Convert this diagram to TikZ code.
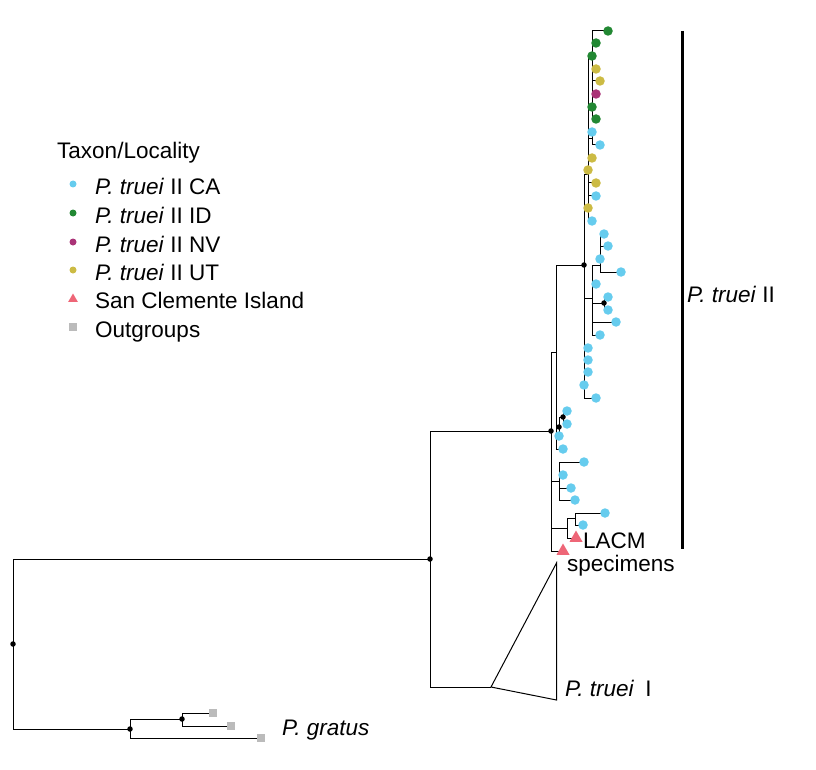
\documentclass[tikz,border=0pt]{standalone}
\usepackage{fontspec}
\setmainfont{Liberation Sans}
\usetikzlibrary{shapes.geometric,backgrounds}

\definecolor{caC}{HTML}{66CCEE}
\definecolor{idC}{HTML}{228833}
\definecolor{nvC}{HTML}{AA3377}
\definecolor{utC}{HTML}{CCBB44}
\definecolor{sciC}{HTML}{EE6677}
\definecolor{ogC}{HTML}{BBBBBB}

\begin{document}
\begin{tikzpicture}[x=1pt, y=-1pt,
                    font=\fontsize{22.5}{26}\selectfont,
                    branch/.style={line width=1pt},
                    tip/.style={circle, fill=#1, inner sep=0, minimum size=9.5pt},
                    sci/.style={regular polygon, regular polygon sides=3, fill=sciC, inner sep=0, minimum size=15pt},
                    og/.style={rectangle, fill=ogC, inner sep=0, minimum size=8.5pt},
                    knot/.style={circle, fill=black, inner sep=0, minimum size=5.5pt},
                    lbl/.style={anchor=base west, inner sep=0pt}]
                \useasboundingbox (0,0) rectangle (816,770);

                % internal nodes
                \node[knot] (root) at (13,644) {};
                \node[knot] (top) at (430,559) {};
                \node[knot] (II) at (551,431) {};
                \coordinate (B) at (556,352);
                \node[knot] (A) at (584,265) {};
                \coordinate (H) at (588,175);
                \coordinate (I) at (592,56);
                \coordinate (K) at (592,139);
                \coordinate (N) at (592,298);
                \coordinate (L) at (600,265);
                \node[knot] (O) at (604,303) {};
                \node[knot] (F) at (559,427) {};
                \node[knot] (G) at (563,417) {};
                \coordinate (C) at (559,481);
                \coordinate (D) at (567,528);
                \coordinate (E) at (575,518);
                \coordinate (Iclade) at (491,687);
                \coordinate (Itop) at (556.5,563);
                \coordinate (Ibot) at (556.5,700);
                \node[knot] (out) at (130,729) {};
                \node[knot] (out2) at (182,719) {};

                % tips
                \foreach \n/\x/\y/\c in {I1/608/31/idC, I2/596/43/idC, I3/592/56/idC, I4/596/69/utC,
                        I5/600/81/utC, I6/596/94/nvC, I7/592/107/idC, I8/596/119/idC,
                        K1/592/132/caC, K2/600/145/caC, H1/592/158/utC, H2/588/170/utC,
                        H3/596/183/utC, H4/596/196/caC, H5/588/208/utC, H6/592/221/caC,
                        L1/604/234/caC, L2/608/246/caC, L3/600/259/caC, L4/621/272/caC,
                        N1/596/284/caC, O1/608/297/caC, O2/608/310/caC, N2/616/322/caC,
                        N3/600/335/caC, A1/588/348/caC, A2/588/360/caC, A3/588/372/caC,
                        A4/584/385/caC, A5/596/398/caC, G1/567/411/caC, G2/567/424/caC,
                        F1/559/436/caC, B1/563/449/caC, C1/584/462/caC, C2/563/475/caC,
                        C3/571/488/caC, C4/575/500/caC, E1/605/513/caC, E2/583/525/caC}
                    \node[tip=\c] (\n) at (\x,\y) {};
                \node[sci] (S1) at (576,538) {};
                \node[sci] (S2) at (563,551) {};
                \node[og] (og1) at (213,713) {};
                \node[og] (og2) at (231,726) {};
                \node[og] (og3) at (261,738) {};

                % branches
                \begin{scope}[on background layer]
                    \foreach \p/\c in {root/top, root/out, out/out2, out2/og1, out2/og2, out/og3,
                            top/II, top/Iclade, II/B, II/C, II/D, II/S2,
                            B/A, B/F, B/B1, A/H, A/N, A/A1, A/A2, A/A3, A/A4, A/A5,
                            H/I, H/K, H/H1, H/H2, H/H3, H/H4, H/H5, H/H6,
                            I/I1, I/I2, I/I3, I/I4, I/I5, I/I6, I/I7, I/I8, K/K1, K/K2,
                            N/L, N/N1, N/O, N/N2, N/N3, L/L1, L/L2, L/L3, L/L4, O/O1, O/O2,
                            F/G, F/F1, G/G1, G/G2, C/C1, C/C2, C/C3, C/C4,
                            D/E, D/S1, E/E1, E/E2}
                        \draw[branch] (\p.center) |- (\c.center);
                    \draw[line width=1pt] (Iclade) -- (Itop) -- (Ibot) -- cycle;
                \end{scope}

                % clade bar and labels
                \coordinate (barT) at (682,31);
                \coordinate (barB) at (682,549);
                \draw[line width=3pt] (barT) -- (barB);
                \node[lbl] (lblII) at (687,302) {\textit{P. truei} II};
                \node[lbl] (lblLACM) at (583,548) {LACM};
                \node[lbl] (lblspec) at (567,571) {specimens};
                \node[lbl] (lblI) at (565,696) {\textit{P. truei}\enspace I};
                \node[lbl] (lblgr) at (282,735) {\textit{P. gratus}};

                % legend
                \node[lbl] (legT) at (57,159) {Taxon/Locality};
                \node[tip=caC, minimum size=7pt] (mCA) at (73,184) {};
                \node[tip=idC, minimum size=7pt] (mID) at (73,213) {};
                \node[tip=nvC, minimum size=7pt] (mNV) at (73,242) {};
                \node[tip=utC, minimum size=7pt] (mUT) at (73,270) {};
                \node[sci, minimum size=11pt] (mSCI) at (73,299) {};
                \node[og, minimum size=8pt] (mOG) at (73,327) {};
                \node[lbl] (tCA) at (95,194) {\textit{P. truei} II CA};
                \node[lbl] (tID) at (95,223) {\textit{P. truei} II ID};
                \node[lbl] (tNV) at (95,252) {\textit{P. truei} II NV};
                \node[lbl] (tUT) at (95,280) {\textit{P. truei} II UT};
                \node[lbl] (tSCI) at (95,308) {San Clemente Island};
                \node[lbl] (tOG) at (95,337) {Outgroups};
            \end{tikzpicture}
\end{document}
